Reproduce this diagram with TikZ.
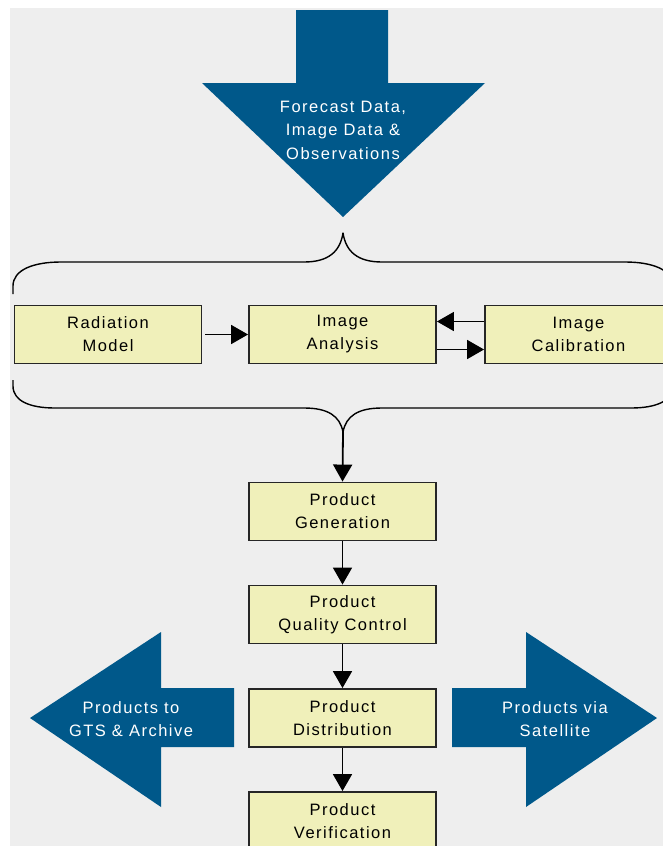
\documentclass[tikz,border=0pt]{standalone}
\usepackage{fontspec}
\newfontfamily\diagfont{Liberation Sans}[LetterSpace=9]
\usetikzlibrary{arrows.meta}

\definecolor{pagebg}{RGB}{238,238,238}
\definecolor{flowblue}{RGB}{0,88,138}
\definecolor{boxfill}{RGB}{240,240,186}

\tikzset{
  stepbox/.style={draw=black!85, line width=1.9pt, fill=boxfill,
    minimum width=187pt, minimum height=58pt, inner sep=0pt,
    align=center, font=\diagfont\fontsize{16.5}{23}\selectfont},
  bluearrow/.style={fill=flowblue, draw=none},
  arrowtext/.style={text=white, align=center, inner sep=0pt,
    font=\diagfont\fontsize{16.5}{23.5}\selectfont},
  conn/.style={line width=1.8pt, -{Triangle[length=17pt,width=19pt]}},
  bracket/.style={line width=1.4pt, line join=round}
}

\begin{document}
\begin{tikzpicture}[x=1pt, y=-1pt]
  \useasboundingbox (0,0) rectangle (663,846);
  \clip (0,0) rectangle (663,846);
  \fill[white] (0,0) rectangle (663,846);
  \fill[pagebg] (10,8) rectangle (663,846);

  % incoming data arrow
  \fill[bluearrow] (296,10) -- (388,10) -- (388,83) -- (485,83) -- (343,217)
    -- (202,83) -- (296,83) -- cycle;
  \node[arrowtext] (incoming) at (343,130)
    {Forecast Data,\\Image Data \&\\Observations};

  % outgoing product arrows
  \fill[bluearrow] (30,718) -- (161,632) -- (161,688) -- (234,688) -- (234,747)
    -- (161,747) -- (161,807) -- cycle;
  \node[arrowtext] (togts) at (131,719) {Products to\\GTS \& Archive};
  \fill[bluearrow] (657,718) -- (526,632) -- (526,688) -- (452,688) -- (452,747)
    -- (526,747) -- (526,807) -- cycle;
  \node[arrowtext] (tosat) at (555,719) {Products via\\Satellite};

  % braces around the analysis stage
  \draw[bracket] (13,294) -- (13,286) .. controls (13,270) and (33,262) .. (61,262)
    -- (304,262) .. controls (328,262) and (340,252) .. (343,233)
    .. controls (346,252) and (358,262) .. (382,262)
    -- (625,262) .. controls (653,262) and (673,270) .. (673,286) -- (673,294);
  \draw[bracket] (13,380) -- (13,386) .. controls (13,401) and (30,408) .. (55,408)
    -- (304,408) .. controls (328,408) and (340,416) .. (343,432)
    .. controls (346,416) and (358,408) .. (382,408)
    -- (631,408) .. controls (656,408) and (673,401) .. (673,386) -- (673,380);
  \coordinate (bracetip) at (343,432);

  % processing steps
  \node[stepbox] (radmodel) at (108,334.5) {Radiation\\Model};
  \node[stepbox] (imganalysis) at (342.5,334.5) {Image\\Analysis};
  \node[stepbox] (imgcalib) at (578.5,334.5) {Image\\Calibration};
  \node[stepbox] (prodgen) at (342.5,511.5) {Product\\Generation};
  \node[stepbox] (prodqc) at (342.5,614.5) {Product\\Quality Control};
  \node[stepbox] (proddist) at (342.5,718) {Product\\Distribution};
  \node[stepbox] (prodver) at (342.5,821) {Product\\Verification};

  % connectors
  \draw[conn] ([xshift=3pt]radmodel.east) -- (imganalysis.west);
  \draw[conn] ([yshift=13pt]imgcalib.west) -- ([yshift=13pt]imganalysis.east);
  \draw[conn] ([yshift=-15pt]imganalysis.east) -- ([yshift=-15pt]imgcalib.west);
  \draw[conn] (bracetip) -- (prodgen.north);
  \draw[conn] (prodgen) -- (prodqc);
  \draw[conn] (prodqc) -- (proddist);
  \draw[conn] (proddist) -- (prodver);
\end{tikzpicture}
\end{document}
